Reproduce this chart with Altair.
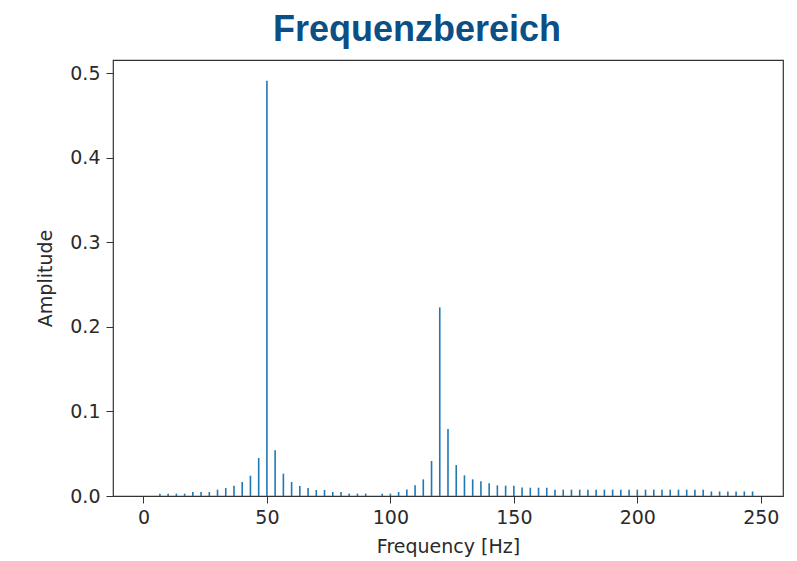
import altair as alt
import pandas as pd

# FFT bin frequencies (Hz)
freq_hz = [0.0, 3.33, 6.67, 10.0, 13.33, 16.67, 20.0, 23.33, 26.67, 30.0,
           33.33, 36.67, 40.0, 43.33, 46.67, 50.0, 53.33, 56.67, 60.0, 63.33,
           66.67, 70.0, 73.33, 76.67, 80.0, 83.33, 86.67, 90.0, 93.33, 96.67,
           100.0, 103.33, 106.67, 110.0, 113.33, 116.67, 120.0, 123.33, 126.67, 130.0,
           133.33, 136.67, 140.0, 143.33, 146.67, 150.0, 153.33, 156.67, 160.0, 163.33,
           166.67, 170.0, 173.33, 176.67, 180.0, 183.33, 186.67, 190.0, 193.33, 196.67,
           200.0, 203.33, 206.67, 210.0, 213.33, 216.67, 220.0, 223.33, 226.67, 230.0,
           233.33, 236.67, 240.0, 243.33, 246.67]

amplitude = [0.0, 0.0, 0.0028, 0.0028, 0.0028, 0.0028, 0.0047, 0.0047, 0.0047, 0.0075,
             0.0095, 0.012, 0.0166, 0.024, 0.045, 0.491, 0.054, 0.0264, 0.0166, 0.0118,
             0.0095, 0.0071, 0.0071, 0.0047, 0.0047, 0.0028, 0.0028, 0.0028, 0.0, 0.0028,
             0.0028, 0.0047, 0.0078, 0.0126, 0.0197, 0.0414, 0.223, 0.0792, 0.0366, 0.0244,
             0.0197, 0.0173, 0.015, 0.0126, 0.0122, 0.0122, 0.0100, 0.0098, 0.0098, 0.0098,
             0.0075, 0.0075, 0.0075, 0.0075, 0.0075, 0.0075, 0.0075, 0.0075, 0.0075, 0.0075,
             0.0075, 0.0075, 0.0075, 0.0075, 0.0075, 0.0075, 0.0075, 0.0075, 0.0075, 0.0054,
             0.0054, 0.0054, 0.0054, 0.0054, 0.0054]

x_ticks = [0, 50, 100, 150, 200, 250]
y_ticks = [0.0, 0.1, 0.2, 0.3, 0.4, 0.5]

df = pd.DataFrame({"freq": freq_hz, "amp": amplitude, "base": [0.0] * len(freq_hz)})

tick_font = "DejaVu Sans"
fs = 19

chart = alt.Chart(df).mark_rule(color="#1f77b4", strokeWidth=1.6).encode(
    x=alt.X("freq:Q",
            scale=alt.Scale(domain=[-12.33, 259.0], nice=False, zero=False),
            axis=alt.Axis(values=x_ticks, title="Frequency [Hz]", grid=False, domain=False,
                          format="d", labelFontSize=fs, titleFontSize=fs,
                          labelFont=tick_font, titleFont=tick_font,
                          labelColor="#2a2a2a", titleColor="#2a2a2a",
                          tickColor="#333333", tickSize=7, labelPadding=5, titlePadding=10,
                          titleFontWeight="normal")),
    y=alt.Y("base:Q",
            scale=alt.Scale(domain=[0, 0.5155], nice=False),
            axis=alt.Axis(values=y_ticks, title="Amplitude", grid=False, domain=False,
                          format=".1f", labelFontSize=fs, titleFontSize=fs,
                          labelFont=tick_font, titleFont=tick_font,
                          labelColor="#2a2a2a", titleColor="#2a2a2a",
                          tickColor="#333333", tickSize=7, labelPadding=6, titlePadding=14,
                          titleFontWeight="normal")),
    y2="amp:Q",
).properties(
    width=670,
    height=436,
    title=alt.TitleParams("Frequenzbereich", fontSize=36, font="Liberation Sans",
                          fontWeight="bold", color="#0b4f85", anchor="middle",
                          dx=-31, offset=11),
    autosize=alt.AutoSizeParams(type="none"),
    padding={"left": 105, "top": 52, "right": 6, "bottom": 64},
    background="white",
).configure_view(stroke="#333333", strokeWidth=1.2)

chart.save("out.html", embed_options={"renderer": "svg", "actions": False})
